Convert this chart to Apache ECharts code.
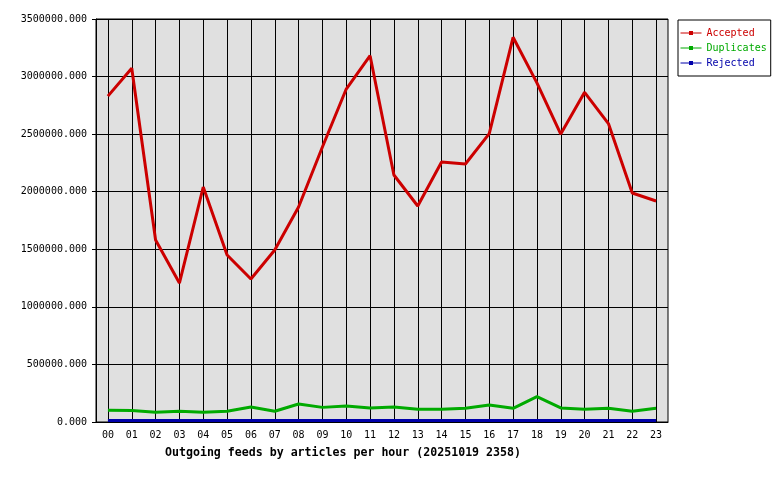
<!DOCTYPE html>
<html><head><meta charset="utf-8">
<script src="https://cdn.jsdelivr.net/npm/echarts@6/dist/echarts.min.js"></script>
<style>html,body{margin:0;padding:0;background:#fff}#c{width:780px;height:480px}</style>
</head><body><div id="c"></div>
<script>
const hours = ['00','01','02','03','04','05','06','07','08','09','10','11','12','13','14','15','16','17','18','19','20','21','22','23'];
const accepted = [2830000,3072000,1581000,1207000,2041000,1450000,1242000,1494000,1867000,2388000,2892000,3181000,2145000,1876000,2258000,2241000,2505000,3341000,2945000,2501000,2863000,2592000,1989000,1919000];
const duplicates = [101000,100000,84000,93000,84000,93000,130000,93000,156000,127000,139000,122000,130000,110000,110000,119000,148000,119000,220000,122000,110000,119000,93000,119000];
const rejected = [13000,13000,13000,13000,13000,13000,13000,13000,13000,13000,13000,13000,13000,13000,13000,13000,13000,13000,13000,13000,13000,13000,13000,13000];
const yTicks = {min:0, max:3500000, interval:500000};
const titleText = 'Outgoing feeds by articles per hour (20251019 2358)';

const FONT = '"DejaVu Sans Mono", "Liberation Mono", monospace';
const RED = '#cc0000', GREEN = '#00aa00', BLUE = '#0000aa';
const chart = echarts.init(document.getElementById('c'), null, {renderer:'canvas'});
function mk(name, data, color) {
  return {name, type:'line', data, symbol:'rect', symbolSize:3, showSymbol:false,
    lineStyle:{color, width:3}, itemStyle:{color, borderColor:color}, animation:false, z:3};
}
chart.setOption({
  animation:false,
  title:{text:titleText, left:160, top:442, textStyle:{fontFamily:FONT, fontSize:11.6, fontWeight:'bold', color:'#000'}},
  grid:{left:96, top:19, right:112, bottom:58, show:true, backgroundColor:'#e0e0e0', borderColor:'#000', borderWidth:1},
  legend:{orient:'vertical', left:678, top:20, padding:[7,4,7,2], itemGap:3, itemWidth:21, itemHeight:5,
    backgroundColor:'#fff', borderColor:'#000', borderWidth:1, borderRadius:0,
    lineStyle:{width:1}, itemStyle:{borderWidth:0},
    textStyle:{fontFamily:FONT, fontSize:10, lineHeight:12},
    data:[{name:'Accepted', textStyle:{color:RED}},{name:'Duplicates', textStyle:{color:GREEN}},{name:'Rejected', textStyle:{color:BLUE}}]},
  xAxis:{type:'category', data:hours, boundaryGap:true,
    axisLine:{lineStyle:{color:'#000', width:1}}, axisTick:{show:false},
    axisLabel:{fontFamily:FONT, fontSize:10, color:'#000', margin:8, interval:0},
    splitLine:{show:true, alignWithLabel:true, lineStyle:{color:'#000', width:1}}},
  yAxis:{type:'value', min:yTicks.min, max:yTicks.max, interval:yTicks.interval,
    axisLine:{show:true, lineStyle:{color:'#000'}}, axisTick:{show:true, length:4, lineStyle:{color:'#000'}},
    axisLabel:{fontFamily:FONT, fontSize:10, color:'#000', margin:9, formatter:v=>v.toFixed(3)},
    splitLine:{show:true, lineStyle:{color:'#000', width:1}}},
  series:[mk('Accepted', accepted, RED), mk('Duplicates', duplicates, GREEN), mk('Rejected', rejected, BLUE)]
});
</script></body></html>
